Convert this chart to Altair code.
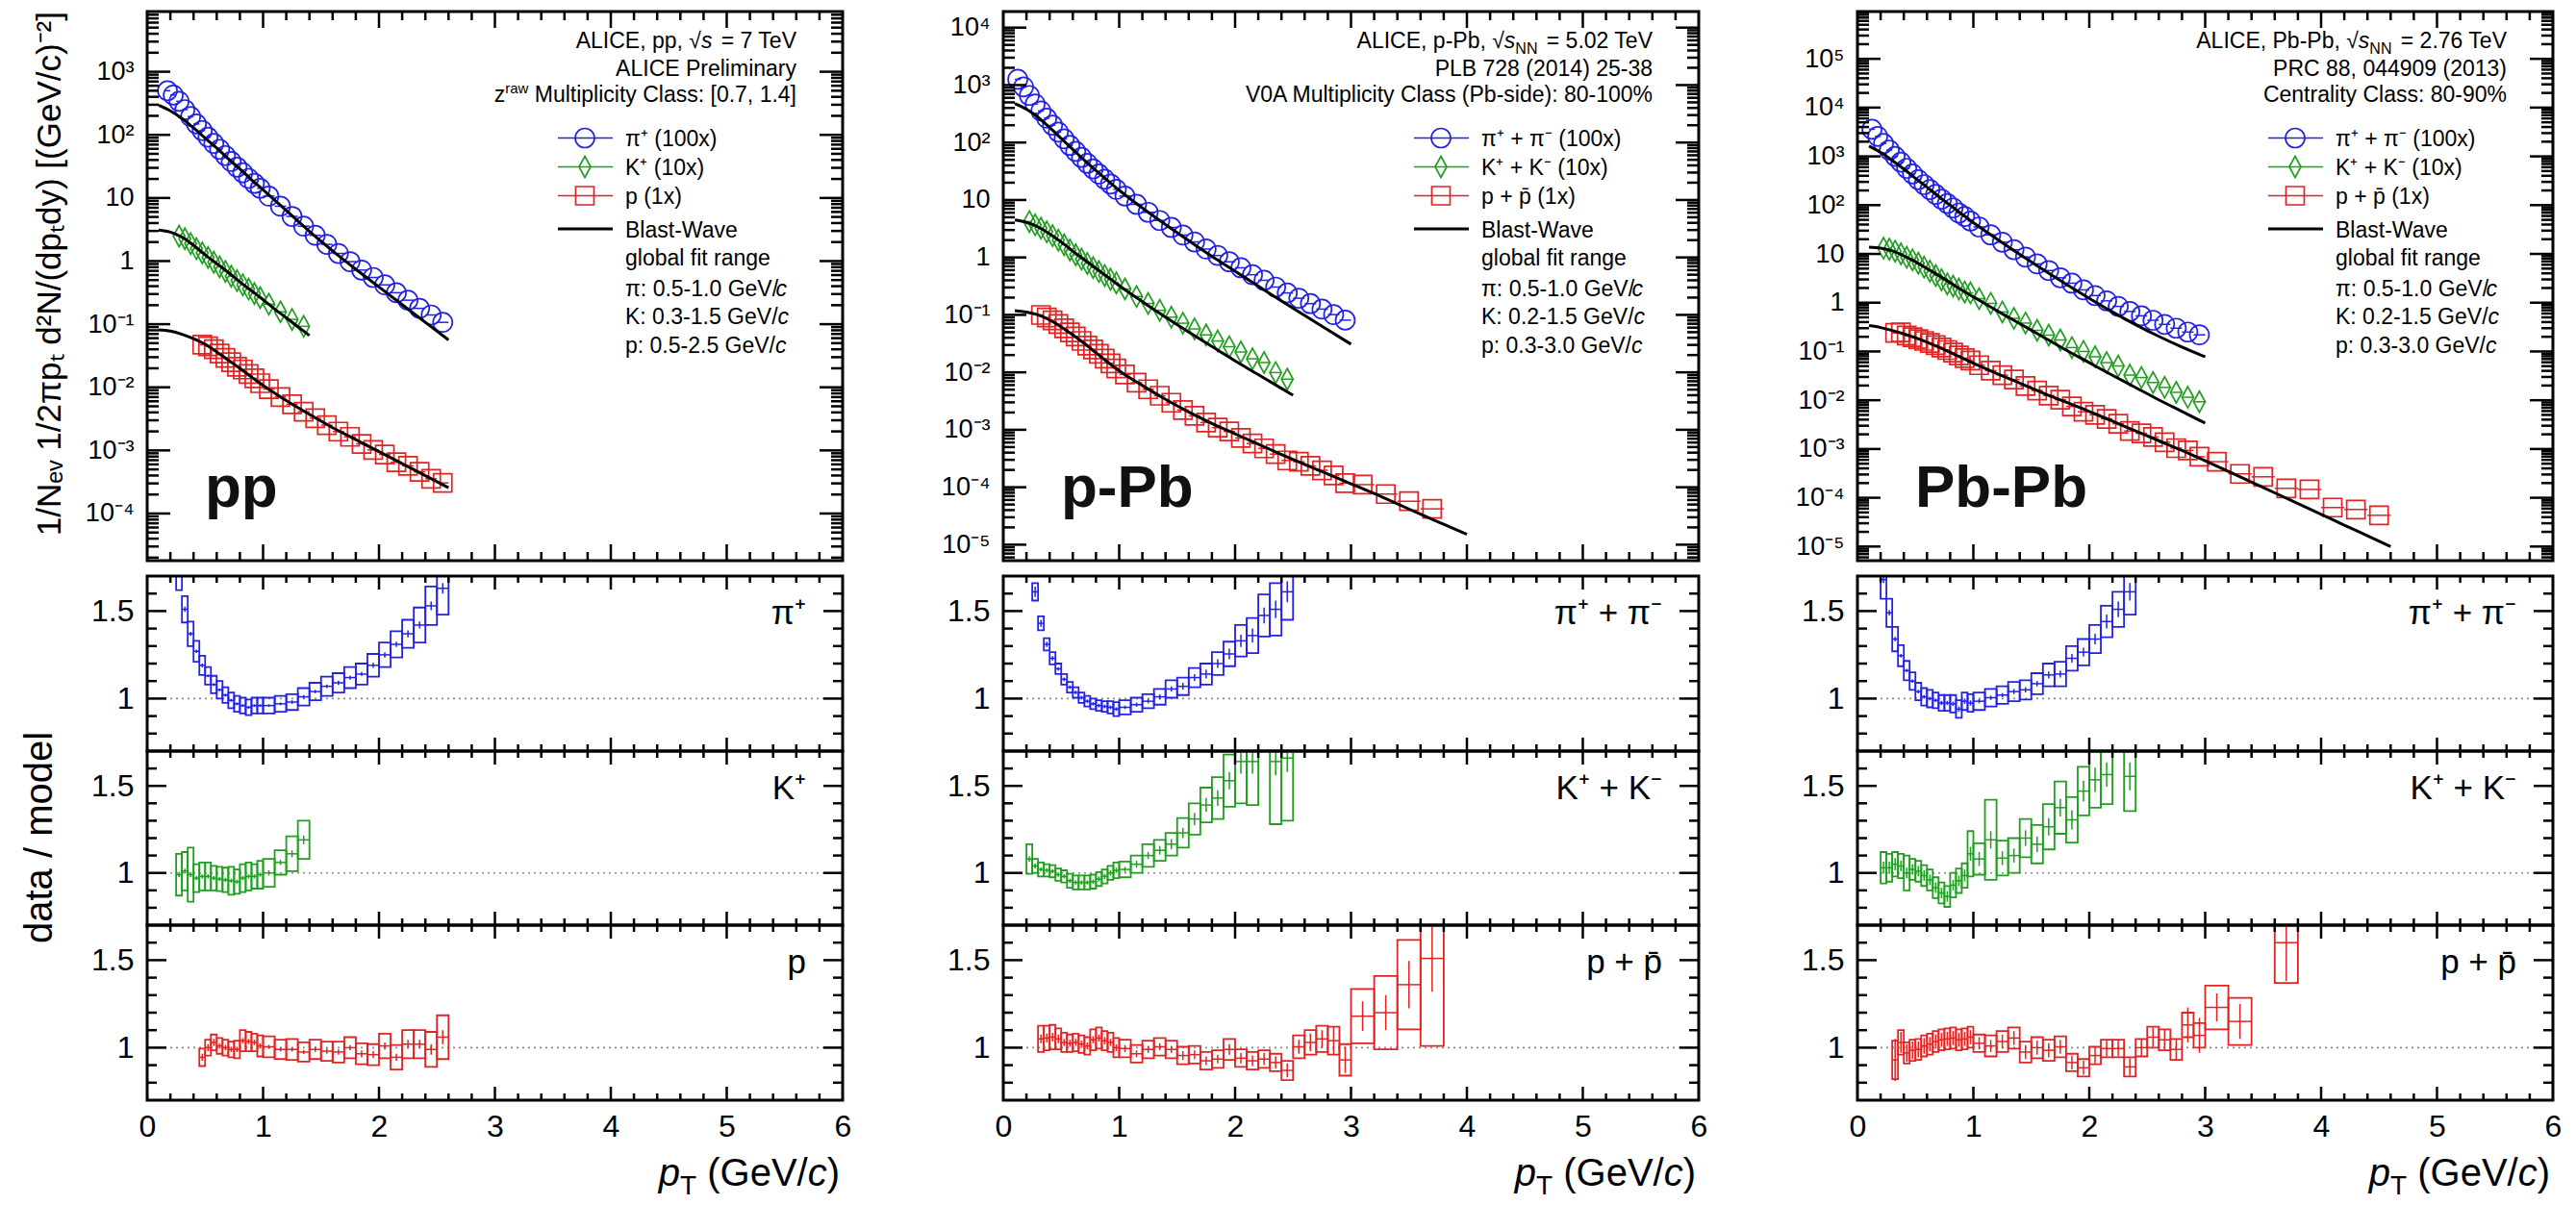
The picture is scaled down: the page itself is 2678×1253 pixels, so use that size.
import altair as alt
import pandas as pd

# ------------------------------------------------------------------ data
LOW = [0.125, 0.175, 0.225, 0.275, 0.325, 0.375, 0.425, 0.475, 0.525, 0.575,
       0.625, 0.675, 0.725, 0.775, 0.825, 0.875, 0.925, 0.975]
MID = [1.05, 1.15, 1.25, 1.35, 1.45, 1.55, 1.65, 1.75, 1.85, 1.95,
       2.05, 2.15, 2.25, 2.35, 2.45, 2.55, 2.65, 2.75, 2.85, 2.95]
HIGH = [3.1, 3.3, 3.5, 3.7, 3.9, 4.1, 4.3, 4.5]
MX = [0.1, 0.2, 0.3, 0.4, 0.5, 0.6, 0.7, 0.8, 0.9, 1.0]
MX2 = [1.2, 1.4, 1.6, 1.8, 2.0, 2.2, 2.4, 2.6, 2.8, 3.0, 3.2, 3.4, 3.6, 3.8, 4.0, 4.2, 4.4, 4.6]

# ---- pp 7 TeV
pp_pi_x = LOW[1:] + MID[:16]
pp_pi_y = [500, 427, 340, 251, 195, 149, 117, 91.9, 73, 59, 47, 37.8, 30.8, 25.1, 20.4, 17.0, 14.2,
           10.7, 7.4, 5.1, 3.57, 2.56, 1.84, 1.32, 0.98, 0.72, 0.55, 0.42, 0.315, 0.24, 0.178, 0.14, 0.107]
pp_k_x = LOW[3:] + MID[:4]
pp_k_y = [2.49, 2.26, 1.89, 1.57, 1.35, 1.14, 0.96, 0.81, 0.687, 0.575, 0.49, 0.42, 0.36, 0.306, 0.263,
          0.207, 0.157, 0.119, 0.0925]
pp_p_x = LOW[7:] + MID[:16]
pp_p_y = [0.0473, 0.0447, 0.0401, 0.0342, 0.0292, 0.0249, 0.0212, 0.0191, 0.0162, 0.0139, 0.0116,
          0.00938, 0.00702, 0.00537, 0.00411, 0.00324, 0.00251, 0.00199, 0.00164, 0.00127, 0.00102,
          8.6e-4, 6.5e-4, 5.7e-4, 4.57e-4, 3.55e-4, 3.05e-4]
pp_pi_mx = MX + MX2[:8]
pp_pi_my = [295, 240, 182, 129, 89, 61.7, 41.7, 28.8, 19.5, 13.5, 6.31, 2.95, 1.45, 0.741, 0.389, 0.204, 0.107, 0.0562]
pp_k_mx = MX + [1.1, 1.2, 1.3, 1.4]
pp_k_my = [3.09, 2.88, 2.40, 1.78, 1.26, 0.912, 0.661, 0.468, 0.339, 0.245, 0.174, 0.126, 0.0912, 0.0661]
pp_p_mx = MX + MX2[:8]
pp_p_my = [0.0813, 0.0776, 0.0692, 0.0589, 0.0479, 0.0363, 0.0269, 0.0200, 0.0145, 0.0107, 0.00617,
           0.00372, 0.00229, 0.00148, 9.55e-4, 6.17e-4, 3.98e-4, 2.57e-4]
pp_pi_rx = LOW[3:] + MID[:16]
pp_pi_r = [1.75, 1.51, 1.37, 1.27, 1.19, 1.13, 1.08, 1.05, 1.02, 0.99, 0.97, 0.96, 0.95, 0.96, 0.96,
           0.96, 0.97, 0.98, 1.01, 1.04, 1.07, 1.09, 1.12, 1.14, 1.19, 1.25, 1.31, 1.37, 1.42, 1.53, 1.63]
pp_pi_rs = [0.13, 0.075, 0.07, 0.06, 0.055, 0.05, 0.05, 0.05, 0.045, 0.045, 0.045, 0.045, 0.045, 0.045, 0.045,
            0.045, 0.045, 0.045, 0.05, 0.05, 0.055, 0.055, 0.06, 0.06, 0.065, 0.07, 0.075, 0.08, 0.1, 0.11, 0.15]
pp_pi_re = [0.02, 0.015, 0.012, 0.01, 0.01, 0.008, 0.008, 0.008, 0.008, 0.008, 0.008, 0.008, 0.008, 0.008, 0.008,
            0.008, 0.008, 0.01, 0.01, 0.01, 0.01, 0.012, 0.012, 0.012, 0.015, 0.015, 0.015, 0.02, 0.02, 0.025, 0.03]
pp_k_rx = LOW[3:] + MID[:4]
pp_k_r = [0.99, 1.01, 0.99, 0.97, 0.98, 0.98, 0.97, 0.965, 0.96, 0.955, 0.95, 0.97, 0.98, 0.98, 0.99,
          1.0, 1.06, 1.11, 1.19]
pp_k_rs = [0.12, 0.11, 0.155, 0.08, 0.08, 0.08, 0.07, 0.07, 0.07, 0.08, 0.07, 0.08, 0.08, 0.07, 0.08,
           0.08, 0.07, 0.1, 0.11]
pp_k_re = [0.015, 0.015, 0.015, 0.012, 0.012, 0.012, 0.012, 0.012, 0.012, 0.012, 0.012, 0.012, 0.012, 0.012, 0.012,
           0.015, 0.015, 0.02, 0.025]
pp_p_rx = LOW[7:] + MID[:16]
pp_p_r = [0.945, 1.0, 1.03, 1.01, 1.0, 0.99, 0.99, 1.04, 1.035, 1.03, 1.01,
          1.005, 0.99, 0.99, 0.975, 0.99, 0.98, 0.975, 1.0, 0.965, 0.96, 1.01, 0.945, 1.02, 1.02, 0.99, 1.06]
pp_p_rs = [0.05, 0.045, 0.045, 0.045, 0.045, 0.045, 0.05, 0.06, 0.055, 0.05, 0.06,
           0.06, 0.055, 0.06, 0.055, 0.055, 0.055, 0.06, 0.06, 0.06, 0.06, 0.07, 0.07, 0.08, 0.08, 0.1, 0.125]
pp_p_re = [0.02, 0.02, 0.02, 0.015, 0.015, 0.015, 0.015, 0.015, 0.015, 0.015, 0.015,
           0.012, 0.012, 0.012, 0.012, 0.015, 0.015, 0.015, 0.015, 0.02, 0.02, 0.02, 0.02, 0.025, 0.025, 0.03, 0.04]

# ---- p-Pb 5.02 TeV
ppb_pi_x = LOW + MID
ppb_pi_y = [1260, 930, 660, 470, 355, 265, 200, 152, 116, 89, 70, 55, 43.5, 34.8, 28.3, 23, 19, 15.3,
            11.7, 8.4, 6.1, 4.4, 3.33, 2.45, 1.86, 1.40, 1.08, 0.84, 0.66, 0.50, 0.40, 0.305, 0.241,
            0.195, 0.157, 0.126, 0.101, 0.081]
ppb_k_x = LOW[2:] + MID[:15]
ppb_k_y = [4.2, 3.69, 3.23, 2.79, 2.39, 2.0, 1.66, 1.35, 1.11, 0.933, 0.785, 0.665, 0.569, 0.485, 0.417, 0.36,
           0.282, 0.209, 0.158, 0.12, 0.0912, 0.0716, 0.0569, 0.0448, 0.0351, 0.0279, 0.0226, 0.0172,
           0.0148, 0.0099, 0.0076]
ppb_p_x = LOW[4:] + MID + HIGH[:4]
ppb_p_y = [0.0997, 0.0903, 0.0804, 0.0693, 0.0586, 0.0497, 0.0422, 0.0352, 0.0291, 0.0251, 0.021, 0.0173,
           0.0143, 0.0117, 0.00918, 0.0066, 0.00508, 0.00391, 0.00296, 0.00221, 0.00175, 0.00134, 0.00109,
           9.35e-4, 7.2e-4, 5.77e-4, 4.74e-4, 3.77e-4, 2.93e-4, 2.78e-4, 2.35e-4, 1.97e-4, 1.6e-4, 1.18e-4,
           1.11e-4, 7.6e-5, 5.7e-5, 4.2e-5]
ppb_pi_mx = MX + MX2[:10]
ppb_pi_my = [479, 380, 275, 182, 117.5, 75.9, 49.0, 32.4, 21.9, 14.8, 7.24, 3.72, 1.95, 1.047, 0.575,
             0.316, 0.174, 0.0977, 0.055, 0.0309]
ppb_k_mx = MX + [1.2, 1.4, 1.6, 1.8, 2.0, 2.2, 2.4, 2.5]
ppb_k_my = [4.47, 4.07, 3.39, 2.57, 1.86, 1.29, 0.912, 0.646, 0.457, 0.324, 0.170, 0.0912, 0.0501, 0.0282,
            0.0158, 0.00912, 0.00525, 0.00398]
ppb_p_mx = MX + MX2[:15]
ppb_p_my = [0.119, 0.112, 0.1, 0.0813, 0.0617, 0.0447, 0.0316, 0.0219, 0.0151, 0.0107, 0.00589, 0.00339,
            0.00204, 0.00129, 8.51e-4, 5.62e-4, 3.72e-4, 2.51e-4, 1.70e-4, 1.15e-4, 7.76e-5, 5.13e-5,
            3.39e-5, 2.26e-5, 1.51e-5]
ppb_pi_rx = LOW[3:] + MID[:15]
ppb_pi_r = [1.61, 1.43, 1.31, 1.23, 1.17, 1.11, 1.065, 1.035, 1.005, 0.985, 0.97, 0.96, 0.955, 0.95, 0.94,
            0.95, 0.965, 0.985, 1.01, 1.055, 1.07, 1.12, 1.14, 1.20, 1.255, 1.33, 1.36, 1.475, 1.51, 1.61]
ppb_pi_rs = [0.05, 0.04, 0.035, 0.035, 0.03, 0.03, 0.03, 0.03, 0.03, 0.03, 0.03, 0.03, 0.03, 0.035, 0.04,
             0.04, 0.04, 0.04, 0.045, 0.05, 0.05, 0.055, 0.06, 0.065, 0.07, 0.09, 0.1, 0.12, 0.15, 0.16]
ppb_pi_re = [0.03, 0.02, 0.015, 0.012, 0.01, 0.01, 0.01, 0.01, 0.01, 0.01, 0.01, 0.01, 0.01, 0.01, 0.01,
             0.01, 0.012, 0.012, 0.015, 0.015, 0.02, 0.02, 0.025, 0.025, 0.03, 0.035, 0.04, 0.045, 0.05, 0.06]
ppb_k_rx = LOW[2:] + MID[:12] + [2.35, 2.45]
ppb_k_r = [1.08, 1.04, 1.02, 1.015, 1.01, 0.99, 0.98, 0.955, 0.945, 0.945, 0.945, 0.95, 0.965, 0.98, 1.0, 1.015,
           1.02, 1.05, 1.10, 1.13, 1.165, 1.23, 1.31, 1.39, 1.43, 1.53, 1.64, 1.64,
           1.64, 1.66]
ppb_k_rs = [0.085, 0.04, 0.04, 0.035, 0.035, 0.035, 0.035, 0.04, 0.04, 0.04, 0.04, 0.04, 0.04, 0.04, 0.04, 0.045,
            0.045, 0.05, 0.065, 0.06, 0.065, 0.085, 0.09, 0.1, 0.12, 0.15, 0.24, 0.25,
            0.36, 0.36]
ppb_k_re = [0.015, 0.015, 0.012, 0.012, 0.012, 0.012, 0.012, 0.012, 0.012, 0.012, 0.012, 0.012, 0.015, 0.015, 0.015, 0.015,
            0.015, 0.02, 0.02, 0.025, 0.03, 0.03, 0.035, 0.04, 0.045, 0.05, 0.07, 0.07,
            0.08, 0.08]
ppb_p_rx = LOW[4:] + MID + HIGH[:4]
ppb_p_r = [1.05, 1.055, 1.06, 1.05, 1.03, 1.025, 1.03, 1.02, 1.01, 1.045, 1.055, 1.04, 1.03, 1.0,
           0.995, 0.965, 0.99, 1.005, 0.99, 0.955, 0.96, 0.925, 0.935, 0.99, 0.94, 0.925, 0.935, 0.915, 0.87,
           1.005, 1.03, 1.05, 1.04, 0.93,
           1.18, 1.2, 1.36, 1.51]
ppb_p_rs = [0.075, 0.07, 0.07, 0.06, 0.055, 0.05, 0.05, 0.05, 0.05, 0.06, 0.06, 0.055, 0.055, 0.055,
            0.05, 0.05, 0.05, 0.05, 0.05, 0.05, 0.05, 0.05, 0.05, 0.06, 0.05, 0.05, 0.05, 0.05, 0.055,
            0.065, 0.07, 0.075, 0.08, 0.09,
            0.155, 0.21, 0.255, 0.5]
ppb_p_re = [0.025, 0.025, 0.025, 0.025, 0.02, 0.02, 0.02, 0.02, 0.02, 0.02, 0.02, 0.02, 0.02, 0.02,
            0.02, 0.02, 0.02, 0.02, 0.02, 0.025, 0.025, 0.025, 0.025, 0.03, 0.03, 0.03, 0.035, 0.035, 0.04,
            0.04, 0.05, 0.05, 0.08, 0.075,
            0.085, 0.1, 0.135, 0.19]

# ---- Pb-Pb 2.76 TeV
pbpb_pi_x = LOW + MID
pbpb_pi_y = [3600, 2570, 1840, 1350, 1000, 760, 570, 437, 333, 263, 209, 166, 133, 108, 87.5, 68.9, 58.6, 47.2,
             35.7, 24.6, 17.4, 12.2, 8.63, 6.24, 4.57, 3.25, 2.51, 1.83, 1.40, 1.09, 0.84, 0.66, 0.537,
             0.436, 0.359, 0.30, 0.25, 0.219]
pbpb_k_x = LOW[2:] + MID
pbpb_k_y = [13.1, 12.5, 11.4, 10.0, 8.5, 7.57, 6.44, 5.35, 4.44, 3.6, 2.95, 2.43, 2.19, 1.90, 1.65, 1.585,
            1.21, 0.968, 0.645, 0.477, 0.382, 0.271, 0.216, 0.172, 0.12, 0.1, 0.0778, 0.0589, 0.0504,
            0.0327, 0.0292, 0.0231, 0.0183, 0.0145, 0.0115, 0.0093]
pbpb_p_x = LOW[4:] + MID + HIGH
pbpb_p_y = [0.24, 0.2457, 0.2123, 0.1963, 0.1792, 0.1646, 0.1493, 0.1349, 0.1206, 0.1068, 0.0945, 0.0825,
            0.073, 0.0649, 0.0523, 0.0404, 0.0327, 0.0265, 0.0195, 0.0158, 0.01246, 0.01022, 0.00747,
            0.00581, 0.00501, 0.00415, 0.0033, 0.00234, 0.00209, 0.00176, 0.00138, 0.00104, 9.34e-4,
            6.94e-4, 5.5e-4, 3.09e-4, 2.69e-4, 1.56e-4, 1.48e-4, 6.3e-5, 5.75e-5, 4.37e-5]
pbpb_pi_mx = MX + MX2[:10]
pbpb_pi_my = [1622, 1202, 832, 550, 355, 234, 151, 100, 66.1, 43.7, 20.4, 9.77, 4.79, 2.40, 1.23, 0.646,
              0.355, 0.204, 0.123, 0.0776]
pbpb_k_mx = MX + MX2[:10]
pbpb_k_my = [13.8, 13.2, 11.5, 9.12, 6.92, 5.01, 3.63, 2.57, 1.82, 1.32, 0.692, 0.372, 0.200, 0.107, 0.0589,
             0.0324, 0.0182, 0.0102, 0.00589, 0.00339]
pbpb_p_mx = MX + MX2
pbpb_p_my = [0.339, 0.309, 0.269, 0.229, 0.191, 0.155, 0.123, 0.0955, 0.0741, 0.0575, 0.0355, 0.0224,
             0.0141, 0.00912, 0.00589, 0.00372, 0.00234, 0.00148, 9.33e-4, 5.75e-4, 3.47e-4, 2.09e-4,
             1.26e-4, 7.59e-5, 4.57e-5, 2.75e-5, 1.66e-5, 1.0e-5]
pbpb_pi_rx = LOW[2:] + MID[:14]
pbpb_pi_r = [1.68, 1.49, 1.34, 1.245, 1.16, 1.10, 1.04, 1.01, 1.0, 0.99, 0.975, 0.975, 0.97, 0.94, 0.985, 0.975,
             0.985, 1.005, 1.02, 1.04, 1.05, 1.085, 1.135, 1.14, 1.23, 1.265, 1.34, 1.44, 1.51, 1.61]
pbpb_pi_rs = [0.11, 0.08, 0.07, 0.06, 0.055, 0.05, 0.05, 0.05, 0.05, 0.045, 0.045, 0.045, 0.05, 0.05, 0.05, 0.05,
              0.05, 0.05, 0.05, 0.055, 0.055, 0.06, 0.065, 0.07, 0.07, 0.075, 0.08, 0.09, 0.1, 0.13]
pbpb_pi_re = [0.02, 0.015, 0.012, 0.01, 0.01, 0.01, 0.01, 0.01, 0.01, 0.01, 0.012, 0.012, 0.012, 0.015, 0.015, 0.015,
              0.012, 0.012, 0.012, 0.015, 0.015, 0.015, 0.02, 0.02, 0.025, 0.025, 0.03, 0.04, 0.045, 0.05]
pbpb_k_rx = LOW[2:] + MID[:12] + [2.35]
pbpb_k_r = [1.03, 1.03, 1.05, 1.04, 1.0, 1.02, 1.01, 0.985, 0.96, 0.915, 0.885, 0.865, 0.93, 0.955, 0.985, 1.11,
            1.08, 1.19, 1.085, 1.10, 1.20, 1.165, 1.265, 1.375, 1.305, 1.47, 1.535, 1.565,
            1.555]
pbpb_k_rs = [0.09, 0.08, 0.07, 0.07, 0.1, 0.06, 0.06, 0.06, 0.06, 0.06, 0.06, 0.06, 0.07, 0.07, 0.07, 0.13,
             0.09, 0.23, 0.1, 0.1, 0.11, 0.11, 0.13, 0.15, 0.13, 0.14, 0.16, 0.17,
             0.2]
pbpb_k_re = [0.035, 0.035, 0.035, 0.03, 0.03, 0.03, 0.03, 0.03, 0.03, 0.03, 0.03, 0.03, 0.03, 0.03, 0.035, 0.04,
             0.04, 0.05, 0.04, 0.04, 0.045, 0.045, 0.05, 0.05, 0.055, 0.06, 0.07, 0.07,
             0.08]
pbpb_p_rx = LOW[4:] + MID + [3.1, 3.3, 3.7]
pbpb_p_r = [0.93, 1.03, 0.97, 0.985, 0.99, 1.01, 1.02, 1.035, 1.045, 1.05, 1.055, 1.045, 1.05, 1.06,
            1.025, 1.01, 1.035, 1.055, 0.975, 1.0, 0.985, 1.005, 0.915, 0.885, 0.955, 0.995, 0.995, 0.89,
            1.0, 1.06, 1.045, 0.99, 1.13, 1.07,
            1.23, 1.15, 1.6]
pbpb_p_rs = [0.11, 0.07, 0.06, 0.06, 0.06, 0.06, 0.06, 0.06, 0.06, 0.06, 0.06, 0.06, 0.06, 0.06,
             0.05, 0.06, 0.06, 0.06, 0.06, 0.06, 0.06, 0.06, 0.05, 0.05, 0.05, 0.05, 0.05, 0.055,
             0.05, 0.06, 0.06, 0.06, 0.07, 0.07,
             0.125, 0.135, 0.23]
pbpb_p_re = [0.12, 0.06, 0.05, 0.05, 0.045, 0.045, 0.04, 0.04, 0.04, 0.04, 0.04, 0.04, 0.04, 0.04,
             0.035, 0.035, 0.04, 0.04, 0.04, 0.04, 0.04, 0.04, 0.04, 0.04, 0.045, 0.045, 0.045, 0.05,
             0.05, 0.055, 0.06, 0.06, 0.1, 0.1,
             0.08, 0.1, 0.22]

# ------------------------------------------------------------------ layout / style
W, H = 2678, 1253
PW = 723
COLX = [153, 1043, 1931]
TOP0, TOP1 = 12, 583
RAT = [(599, 781), (781, 962), (962, 1144)]
FONT = "Liberation Sans"
BLUE, GREEN, RED = "#2222e6", "#1f9e1f", "#e02323"
DIAMOND = "M0,-1L0.55,0L0,1L-0.55,0Z"
SHAPES = [("circle", 400, BLUE), (DIAMOND, 484, GREEN), ("square", 361, RED)]

AW = {' ': .278, '(': .333, ')': .333, '+': .584, ',': .278, '-': .333, '.': .278, '/': .278, ':': .278,
      '=': .584, '[': .278, ']': .278, '%': .889, 'A': .667, 'B': .667, 'C': .722, 'E': .667, 'G': .778,
      'I': .278, 'K': .667, 'L': .556, 'M': .833, 'N': .722, 'P': .667, 'R': .722, 'T': .611, 'V': .667,
      'c': .5, 'f': .278, 'i': .222, 'j': .222, 'k': .5, 'l': .222, 'm': .833, 'r': .333, 's': .5, 't': .278,
      'v': .5, 'w': .722, 'x': .5, 'y': .5, 'z': .5, 'π': .578, '√': .55}


def tw(s, size):
    return sum(AW.get(c, 0.556) for c in s) * size


ONE = alt.Data(values=[{"k": 0}])
LAYERS = []


def txt(s, x, y, size, align="left", style="normal", weight="normal", angle=0, color="black"):
    mk = dict(text=s, font=FONT, fontSize=size, align=align, baseline="alphabetic",
              fontStyle=style, fontWeight=weight, color=color)
    if angle:
        mk["angle"] = angle
    return alt.Chart(ONE).mark_text(**mk).encode(x=alt.value(x), y=alt.value(y))


def rtext(pieces, R, base):
    x = R
    for s, size, style, dy in reversed(pieces):
        trail = tw(s, size) - tw(s.rstrip(), size)
        LAYERS.append(txt(s.strip(), x - trail, base + dy, size, "right", style))
        x -= tw(s, size)


def ltext(pieces, L, base):
    x = L
    for s, size, style, dy in pieces:
        lead = tw(s, size) - tw(s.lstrip(), size)
        LAYERS.append(txt(s.strip(), x + lead, base + dy, size, "left", style))
        x += tw(s, size)


def hw(x):
    return 0.025 if x < 1.0 else (0.05 if x < 3.0 else 0.1)


X_MAJ = [1, 2, 3, 4, 5]
X_MIN = [round(0.2 * i, 1) for i in range(1, 30) if i % 5]


def log_minor(lo, hi):
    out = []
    for n in range(-7, 7):
        for k in range(2, 10):
            v = k * 10.0 ** n
            if lo < v < hi:
                out.append(v)
    return out


def rule(df, color="black", width=2.5, **kw):
    return alt.Chart(df).mark_rule(color=color, strokeWidth=width, **kw)


def add_ticks(xs, ys, x0, ytop, ybot, ymaj, ymin, xl, yl):
    R = x0 + PW
    for vals, ln in ((X_MAJ, xl[0]), (X_MIN, xl[1])):
        d = pd.DataFrame({"t": vals})
        X = alt.X("t:Q", scale=xs, axis=None)
        LAYERS.append(rule(d).encode(x=X, y=alt.value(ybot - ln), y2=alt.value(ybot)))
        LAYERS.append(rule(d).encode(x=X, y=alt.value(ytop), y2=alt.value(ytop + ln)))
    for vals, ln in ((ymaj, yl[0]), (ymin, yl[1])):
        d = pd.DataFrame({"t": vals})
        Y = alt.Y("t:Q", scale=ys, axis=None)
        LAYERS.append(rule(d).encode(y=Y, x=alt.value(x0), x2=alt.value(x0 + ln)))
        LAYERS.append(rule(d).encode(y=Y, x=alt.value(R - ln), x2=alt.value(R)))


def add_frame(xs, ys, ylo, yhi):
    d = pd.DataFrame({"a": [0], "b": [6], "c": [ylo], "e": [yhi]})
    LAYERS.append(alt.Chart(d).mark_rect(fill="white", fillOpacity=0, stroke="black", strokeWidth=3).encode(
        x=alt.X("a:Q", scale=xs, axis=None), x2="b:Q",
        y=alt.Y("c:Q", scale=ys, axis=None), y2="e:Q"))


def add_yaxis(vals, ys, x0, expr, size):
    d = pd.DataFrame({"t": vals})
    LAYERS.append(alt.Chart(d).mark_rule(opacity=0).encode(
        y=alt.Y("t:Q", scale=ys, axis=alt.Axis(
            orient="left", offset=-x0, values=vals, labelExpr=expr, ticks=False, domain=False,
            grid=False, title=None, labelFont=FONT, labelFontSize=size, labelColor="black",
            labelPadding=14, labelOverlap=False)),
        x=alt.value(x0), x2=alt.value(x0 + 1)))


def add_xaxis(xs, x0, ybot):
    vals = [0, 1, 2, 3, 4, 5, 6]
    d = pd.DataFrame({"t": vals})
    LAYERS.append(alt.Chart(d).mark_rule(opacity=0).encode(
        x=alt.X("t:Q", scale=xs, axis=alt.Axis(
            orient="bottom", offset=ybot - H, values=vals, format="d", ticks=False, domain=False,
            grid=False, title=None, labelFont=FONT, labelFontSize=32, labelColor="black",
            labelPadding=12, labelOverlap=False, labelFlush=False)),
        y=alt.value(ybot), y2=alt.value(ybot - 1)))


LOGLAB = ("datum.value == 1 ? '1' : (datum.value == 10 ? '10' : '10' + "
          "['⁻⁶','⁻⁵','⁻⁴','⁻³','⁻²','⁻¹','⁰','¹','²','³','⁴','⁵','⁶'][round(log(datum.value) / LN10) + 6])")
RATLAB = "datum.value == 1 ? '1' : '1.5'"

SYSTEMS = [
    dict(x0=COLX[0], ydom=[1.79e-5, 8.99e3], big="pp",
         spectra=[(pp_pi_x, pp_pi_y), (pp_k_x, pp_k_y), (pp_p_x, pp_p_y)],
         models=[(pp_pi_mx, pp_pi_my), (pp_k_mx, pp_k_my), (pp_p_mx, pp_p_my)],
         ratios=[(pp_pi_rx, pp_pi_r, pp_pi_rs, pp_pi_re), (pp_k_rx, pp_k_r, pp_k_rs, pp_k_re),
                 (pp_p_rx, pp_p_r, pp_p_rs, pp_p_re)],
         rlab=["π⁺", "K⁺", "p"],
         head=[[("ALICE, pp, √", 23, "normal", 0), ("s", 23, "italic", 0), (" = 7 TeV", 23, "normal", 0)],
               [("ALICE Preliminary", 23, "normal", 0)],
               [("z", 23, "normal", 0), ("raw", 15, "normal", -9),
                (" Multiplicity Class: [0.7, 1.4]", 23, "normal", 0)]],
         leg=["π⁺ (100x)", "K⁺ (10x)", "p (1x)"],
         fits=["π: 0.5-1.0 GeV/", "K: 0.3-1.5 GeV/", "p: 0.5-2.5 GeV/"]),
    dict(x0=COLX[1], ydom=[5.27e-6, 1.905e4], big="p-Pb",
         spectra=[(ppb_pi_x, ppb_pi_y), (ppb_k_x, ppb_k_y), (ppb_p_x, ppb_p_y)],
         models=[(ppb_pi_mx, ppb_pi_my), (ppb_k_mx, ppb_k_my), (ppb_p_mx, ppb_p_my)],
         ratios=[(ppb_pi_rx, ppb_pi_r, ppb_pi_rs, ppb_pi_re), (ppb_k_rx, ppb_k_r, ppb_k_rs, ppb_k_re),
                 (ppb_p_rx, ppb_p_r, ppb_p_rs, ppb_p_re)],
         rlab=["π⁺ + π⁻", "K⁺ + K⁻", "p + p̄"],
         head=[[("ALICE, p-Pb, √", 23, "normal", 0), ("s", 23, "italic", 0), ("NN", 16, "normal", 6),
                (" = 5.02 TeV", 23, "normal", 0)],
               [("PLB 728 (2014) 25-38", 23, "normal", 0)],
               [("V0A Multiplicity Class (Pb-side): 80-100%", 23, "normal", 0)]],
         leg=["π⁺ + π⁻ (100x)", "K⁺ + K⁻ (10x)", "p + p̄ (1x)"],
         fits=["π: 0.5-1.0 GeV/", "K: 0.2-1.5 GeV/", "p: 0.3-3.0 GeV/"]),
    dict(x0=COLX[2], ydom=[5.13e-6, 9.33e5], big="Pb-Pb",
         spectra=[(pbpb_pi_x, pbpb_pi_y), (pbpb_k_x, pbpb_k_y), (pbpb_p_x, pbpb_p_y)],
         models=[(pbpb_pi_mx, pbpb_pi_my), (pbpb_k_mx, pbpb_k_my), (pbpb_p_mx, pbpb_p_my)],
         ratios=[(pbpb_pi_rx, pbpb_pi_r, pbpb_pi_rs, pbpb_pi_re), (pbpb_k_rx, pbpb_k_r, pbpb_k_rs, pbpb_k_re),
                 (pbpb_p_rx, pbpb_p_r, pbpb_p_rs, pbpb_p_re)],
         rlab=["π⁺ + π⁻", "K⁺ + K⁻", "p + p̄"],
         head=[[("ALICE, Pb-Pb, √", 23, "normal", 0), ("s", 23, "italic", 0), ("NN", 16, "normal", 6),
                (" = 2.76 TeV", 23, "normal", 0)],
               [("PRC 88, 044909 (2013)", 23, "normal", 0)],
               [("Centrality Class: 80-90%", 23, "normal", 0)]],
         leg=["π⁺ + π⁻ (100x)", "K⁺ + K⁻ (10x)", "p + p̄ (1x)"],
         fits=["π: 0.5-1.0 GeV/", "K: 0.2-1.5 GeV/", "p: 0.3-3.0 GeV/"]),
]

for S in SYSTEMS:
    x0 = S["x0"]
    R = x0 + PW
    xs = alt.Scale(domain=[0, 6], range=[x0, R], nice=False, zero=False)
    lo, hi = S["ydom"]
    ys = alt.Scale(type="log", domain=[lo, hi], range=[TOP1, TOP0], nice=False)

    # --- spectra
    for (x, y), (shape, size, color) in zip(S["spectra"], SHAPES):
        df = pd.DataFrame({"x": x, "y": y})
        df["lo"] = [v - hw(v) for v in x]
        df["hi"] = [v + hw(v) for v in x]
        LAYERS.append(alt.Chart(df).mark_rule(color=color, strokeWidth=1.5).encode(
            x=alt.X("lo:Q", scale=xs, axis=None), x2="hi:Q", y=alt.Y("y:Q", scale=ys, axis=None)))
        LAYERS.append(alt.Chart(df).mark_point(shape=shape, size=size, filled=False, color=color,
                                               strokeWidth=1.7, opacity=1).encode(
            x=alt.X("x:Q", scale=xs, axis=None), y=alt.Y("y:Q", scale=ys, axis=None)))
    for mx, my in S["models"]:
        df = pd.DataFrame({"x": mx, "y": my})
        LAYERS.append(alt.Chart(df).mark_line(color="black", strokeWidth=3, interpolate="monotone").encode(
            x=alt.X("x:Q", scale=xs, axis=None), y=alt.Y("y:Q", scale=ys, axis=None)))

    decs = [10.0 ** n for n in range(-7, 8) if lo < 10.0 ** n < hi]
    add_ticks(xs, ys, x0, TOP0, TOP1, decs, log_minor(lo, hi), (17, 9), (24, 12))
    add_frame(xs, ys, lo, hi)
    add_yaxis(decs, ys, x0, LOGLAB, 27)

    # --- texts in spectra panel
    rtext(S["head"][0], R - 48, 50)
    rtext(S["head"][1], R - 48, 79)
    rtext(S["head"][2], R - 48, 106)
    for lab, (shape, size, color), base in zip(S["leg"], SHAPES, [152, 182, 212]):
        cy = base - 8.5
        LAYERS.append(alt.Chart(ONE).mark_rule(color=color, strokeWidth=1.5).encode(
            x=alt.value(R - 296), x2=alt.value(R - 239), y=alt.value(cy)))
        LAYERS.append(alt.Chart(ONE).mark_point(shape=shape, size=size, filled=False, color=color,
                                                strokeWidth=1.7, opacity=1).encode(
            x=alt.value(R - 268), y=alt.value(cy)))
        LAYERS.append(txt(lab, R - 226, base, 23))
    LAYERS.append(alt.Chart(ONE).mark_rule(color="black", strokeWidth=3).encode(
        x=alt.value(R - 296), x2=alt.value(R - 239), y=alt.value(238)))
    LAYERS.append(txt("Blast-Wave", R - 226, 247, 23))
    LAYERS.append(txt("global fit range", R - 226, 276, 23))
    for f, base in zip(S["fits"], [308, 337, 367]):
        ltext([(f, 23, "normal", 0), ("c", 23, "italic", 0)], R - 226, base)
    LAYERS.append(txt(S["big"], x0 + 60, 527, 62, weight="bold", color="#111111"))

    # --- ratio panels
    for (rx, r, rs, re), (shape, size, color), (y0, y1), rl in zip(S["ratios"], SHAPES, RAT, S["rlab"]):
        yr = alt.Scale(domain=[0.7, 1.7], range=[y1, y0], nice=False, zero=False, clamp=True)
        one = pd.DataFrame({"a": [0], "b": [6], "v": [1.0]})
        LAYERS.append(alt.Chart(one).mark_rule(color="#8a8a8a", strokeWidth=1.6, strokeDash=[2, 4]).encode(
            x=alt.X("a:Q", scale=xs, axis=None), x2="b:Q", y=alt.Y("v:Q", scale=yr, axis=None)))
        df = pd.DataFrame({"x": rx, "v": r, "s": rs, "e": re})
        df["lo"] = [v - hw(v) for v in rx]
        df["hi"] = [v + hw(v) for v in rx]
        df["sb"] = df["v"] - df["s"]
        df["st"] = df["v"] + df["s"]
        df["eb"] = df["v"] - df["e"]
        df["et"] = df["v"] + df["e"]
        X = alt.X("lo:Q", scale=xs, axis=None)
        LAYERS.append(alt.Chart(df).mark_rect(fill=color, fillOpacity=0, stroke=color, strokeWidth=1.8).encode(
            x=X, x2="hi:Q", y=alt.Y("sb:Q", scale=yr, axis=None), y2="st:Q"))
        LAYERS.append(alt.Chart(df).mark_rule(color=color, strokeWidth=1.5).encode(
            x=X, x2="hi:Q", y=alt.Y("v:Q", scale=yr, axis=None)))
        LAYERS.append(alt.Chart(df).mark_rule(color=color, strokeWidth=1.5).encode(
            x=alt.X("x:Q", scale=xs, axis=None), y=alt.Y("eb:Q", scale=yr, axis=None), y2="et:Q"))
        add_ticks(xs, yr, x0, y0, y1, [1.0, 1.5], [0.8, 0.9, 1.1, 1.2, 1.3, 1.4, 1.6], (14, 7), (20, 10))
        add_frame(xs, yr, 0.7, 1.7)
        add_yaxis([1.0, 1.5], yr, x0, RATLAB, 32)
        LAYERS.append(txt(rl, R - 38, y0 + 50, 35, align="right"))
    add_xaxis(xs, x0, RAT[2][1])
    rtext([("p", 40, "italic", 0), ("T", 28, "normal", 9), (" (GeV/", 40, "normal", 0),
           ("c", 40, "italic", 0), (")", 40, "normal", 0)], R - 3, 1233)

# --- global axis titles
LAYERS.append(txt("1/Nₑᵥ 1/2πpₜ d²N/(dpₜdy) [(GeV/c)⁻²]", 63, 12, 35, align="right", angle=270))
LAYERS.append(txt("data / model", 54, 871, 40, align="center", angle=270))

chart = alt.layer(*LAYERS).resolve_scale(
    x="independent", y="independent"
).resolve_axis(
    x="independent", y="independent"
).properties(
    width=W, height=H, padding=0, autosize=alt.AutoSizeParams(type="none"), background="white"
).configure_view(stroke="transparent")

chart.save("out.html", embed_options={"renderer": "svg", "actions": False})
